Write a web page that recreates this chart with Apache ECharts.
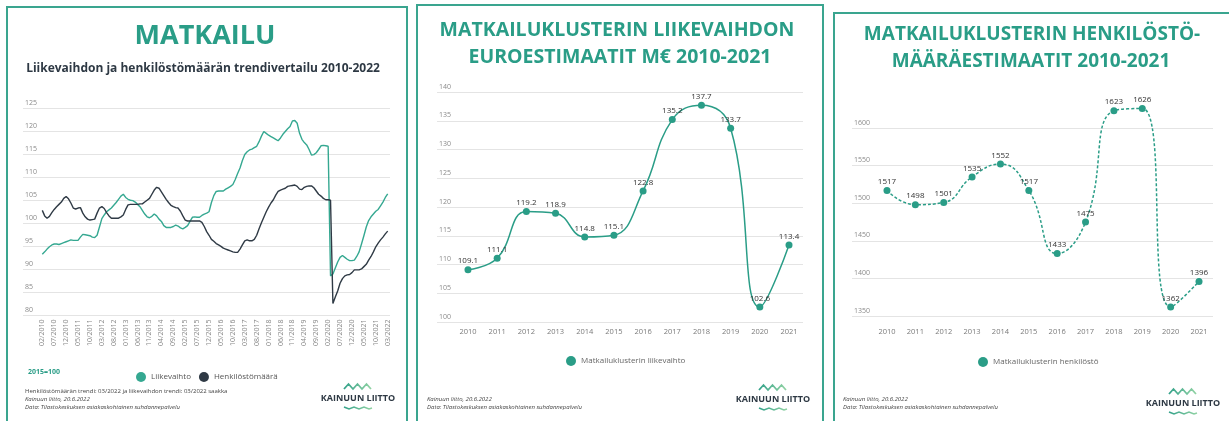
<!DOCTYPE html>
<html><head><meta charset="utf-8">
<script src="https://cdn.jsdelivr.net/npm/echarts@6/dist/echarts.min.js"></script>
<style>html,body{margin:0;padding:0;background:#fff}#c{width:1229px;height:421px}</style>
</head><body><div id="c"></div>
<script>
// ---- categories ----
const months = [];
for (let y = 2010; y <= 2022; y++) {
  for (let m = 1; m <= 12; m++) {
    if ((y === 2010 && m < 2) || (y === 2022 && m > 3)) continue;
    months.push((m < 10 ? '0' : '') + m + '/' + y);
  }
}
const years = ['2010','2011','2012','2013','2014','2015','2016','2017','2018','2019','2020','2021'];

// ---- panel 1: trend indices (2015=100), 02/2010 - 03/2022 ----
const liikevaihtoTrend = [
  93.3,93.8,94.4,94.9,95.3,95.5,95.5,95.4,95.6,95.8,
  96.0,96.2,96.4,96.3,96.3,96.3,97.0,97.6,97.5,97.4,
  97.3,97.0,96.9,97.4,99.2,101.0,101.8,102.5,102.9,103.3,
  103.9,104.5,105.2,105.9,106.3,105.6,105.2,105.0,104.9,104.6,
  104.1,103.6,102.8,102.0,101.4,101.2,101.5,102.0,101.6,100.9,
  100.4,99.5,99.1,99.1,99.1,99.3,99.6,99.4,99.0,98.8,
  99.1,99.5,100.4,101.3,101.4,101.3,101.3,101.7,102.0,102.2,
  102.5,104.5,106.0,106.9,107.0,107.0,107.0,107.4,107.7,108.0,
  108.4,109.5,110.8,112.0,113.6,114.9,115.5,115.9,116.1,116.4,
  116.7,117.7,118.9,119.9,119.5,119.1,118.8,118.5,118.2,117.9,
  118.5,119.3,119.9,120.5,121.0,122.2,122.3,121.7,119.5,118.2,
  117.5,117.0,116.0,114.8,114.9,115.3,116.0,116.8,116.9,116.8,
  116.7,88.6,89.0,90.3,91.6,92.6,93.0,92.6,92.2,91.9,
  91.9,92.0,92.8,93.8,95.5,97.3,99.2,100.6,101.4,102.0,
  102.6,103.0,103.8,104.6,105.6,106.4
];
const henkilostoTrend = [
  102.8,101.6,101.1,101.5,102.3,103.0,103.6,104.1,104.6,105.4,
  105.8,105.3,104.4,103.3,103.1,103.3,103.4,102.2,101.4,100.9,
  100.7,100.8,100.9,102.2,103.3,103.6,103.2,102.3,101.6,101.1,
  101.1,101.1,101.1,101.4,101.8,103.0,104.0,104.1,104.1,104.1,
  104.1,104.2,104.2,104.6,105.0,105.4,106.3,107.2,107.8,107.6,
  106.8,106.0,105.2,104.5,103.9,103.6,103.4,103.3,102.6,101.6,
  100.7,100.5,100.5,100.5,100.5,100.5,100.5,100.2,99.3,98.2,
  97.4,96.5,96.1,95.6,95.3,95.0,94.6,94.4,94.2,94.0,
  93.8,93.7,93.7,94.4,95.3,96.2,96.4,96.2,96.2,96.5,
  97.4,98.8,100.1,101.3,102.5,103.5,104.4,105.1,106.1,106.9,
  107.2,107.4,107.6,108.0,108.1,108.2,108.3,108.0,107.4,107.3,
  107.8,108.0,108.1,108.1,107.7,107.0,106.3,105.9,105.4,105.1,
  105.1,105.0,82.6,84.0,85.3,87.0,88.0,88.6,88.8,88.9,
  89.3,89.9,89.9,89.9,90.1,90.6,91.1,92.0,92.8,93.8,
  94.9,95.7,96.4,97.0,97.7,98.3
];

// ---- panel 2: turnover M€ ----
const liikevaihtoMeur = [109.1,111.1,119.2,118.9,114.8,115.1,122.8,135.2,137.7,133.7,102.6,113.4];
// ---- panel 3: personnel ----
const henkilosto = [1517,1498,1501,1535,1552,1517,1433,1475,1623,1626,1362,1396];

const TEAL = '#2a9d87';
const DARK = '#2e3944';
const FONT = '"Open Sans", sans-serif';

function logo(cx, ty) {
  const grad = new echarts.graphic.LinearGradient(0, 0, 1, 0, [
    { offset: 0, color: '#2a9d87' }, { offset: 1, color: '#9ad7a6' }]);
  const grad2 = new echarts.graphic.LinearGradient(0, 0, 1, 0, [
    { offset: 0, color: '#2a9d87' }, { offset: 1, color: '#9ad7a6' }]);
  return [
    { type: 'polyline', silent: true,
      shape: { points: [[cx-14,ty+5],[cx-9.5,ty],[cx-5,ty+5],[cx-0.5,ty],[cx+4,ty+5],[cx+8.5,ty],[cx+13,ty+5]] },
      style: { stroke: grad, lineWidth: 1.8, fill: null } },
    { type: 'text', silent: true, x: cx, y: ty + 14,
      style: { text: 'KAINUUN LIITTO', fill: DARK, font: 'bold 9px ' + FONT, align: 'center', verticalAlign: 'middle' } },
    { type: 'polyline', silent: true, smooth: 0.5,
      shape: { points: [[cx-14,ty+23],[cx-9,ty+25],[cx-4,ty+23],[cx+1,ty+25],[cx+6,ty+23],[cx+11,ty+25],[cx+14,ty+24]] },
      style: { stroke: grad2, lineWidth: 1.6, fill: null } }
  ];
}

function txt(x, y, text, font, fill, align) {
  return { type: 'text', silent: true, x: x, y: y,
    style: { text: text, font: font, fill: fill, align: align || 'left', verticalAlign: 'middle' } };
}

const gridLine = { show: true, lineStyle: { color: '#e4e4e4', width: 1 } };
const yLabelInside = { inside: true, margin: 2, color: '#8a8a8a', fontSize: 7, fontFamily: FONT,
  verticalAlign: 'bottom', padding: [0, 0, 2, 0], formatter: v => String(v) };

const chart = echarts.init(document.getElementById('c'));
chart.setOption({
  animation: false,
  grid: [
    { left: 23, top: 108, width: 367, height: 207.5 },     // 0 panel1 background
    { left: 42.3, top: 108, width: 345.4, height: 207.5 }, // 1 panel1 data
    { left: 437, top: 92, width: 366, height: 230 },        // 2 panel2 background
    { left: 453.4, top: 92, width: 350.2, height: 230 },    // 3 panel2 data
    { left: 852, top: 128, width: 361, height: 188 },       // 4 panel3 background
    { left: 872.8, top: 90.4, width: 340.4, height: 225.6 } // 5 panel3 data
  ],
  xAxis: [
    { gridIndex: 0, type: 'value', show: false, min: 0, max: 1 },
    { gridIndex: 1, type: 'category', data: months, boundaryGap: false,
      axisLine: { show: false }, axisTick: { show: false },
      axisLabel: { interval: 4, rotate: 90, margin: 4, color: '#8a8a8a', fontSize: 7, fontFamily: FONT } },
    { gridIndex: 2, type: 'value', show: false, min: 0, max: 1 },
    { gridIndex: 3, type: 'category', data: years, boundaryGap: true,
      axisLine: { show: false }, axisTick: { show: false },
      axisLabel: { margin: 6, color: '#7a7a7a', fontSize: 7.5, fontFamily: FONT } },
    { gridIndex: 4, type: 'value', show: false, min: 0, max: 1 },
    { gridIndex: 5, type: 'category', data: years, boundaryGap: true,
      axisLine: { show: false }, axisTick: { show: false },
      axisLabel: { margin: 12, color: '#7a7a7a', fontSize: 7.5, fontFamily: FONT } }
  ],
  yAxis: [
    { gridIndex: 0, type: 'value', min: 80, max: 125, interval: 5, splitLine: gridLine,
      axisLine: { show: false }, axisTick: { show: false }, axisLabel: yLabelInside },
    { gridIndex: 1, type: 'value', min: 80, max: 125, show: false, splitLine: { show: false } },
    { gridIndex: 2, type: 'value', min: 100, max: 140, interval: 5, splitLine: gridLine,
      axisLine: { show: false }, axisTick: { show: false }, axisLabel: yLabelInside },
    { gridIndex: 3, type: 'value', min: 100, max: 140, show: false, splitLine: { show: false } },
    { gridIndex: 4, type: 'value', min: 1350, max: 1600, interval: 50, splitLine: gridLine,
      axisLine: { show: false }, axisTick: { show: false }, axisLabel: yLabelInside },
    { gridIndex: 5, type: 'value', min: 1350, max: 1650, show: false, splitLine: { show: false } }
  ],
  legend: [
    { data: ['Liikevaihto', 'Henkilöstömäärä'], left: 131, top: 367, icon: 'circle',
      itemWidth: 10, itemHeight: 10, itemGap: 8,
      textStyle: { fontSize: 8, color: '#555', fontFamily: FONT } },
    { data: ['Matkailuklusterin liikevaihto'], left: 561, top: 351, icon: 'circle',
      itemWidth: 10, itemHeight: 10, textStyle: { fontSize: 8, color: '#666', fontFamily: FONT } },
    { data: ['Matkailuklusterin henkilöstö'], left: 973, top: 352, icon: 'circle',
      itemWidth: 10, itemHeight: 10, textStyle: { fontSize: 8, color: '#666', fontFamily: FONT } }
  ],
  series: [
    { name: 'Liikevaihto', type: 'line', xAxisIndex: 1, yAxisIndex: 1, data: liikevaihtoTrend,
      showSymbol: false, symbol: 'circle', color: '#35a891', lineStyle: { width: 1.4, color: '#35a891' } },
    { name: 'Henkilöstömäärä', type: 'line', xAxisIndex: 1, yAxisIndex: 1, data: henkilostoTrend,
      showSymbol: false, symbol: 'circle', color: '#2f3a45', lineStyle: { width: 1.4, color: '#2f3a45' } },
    { name: 'Matkailuklusterin liikevaihto', type: 'line', xAxisIndex: 3, yAxisIndex: 3, data: liikevaihtoMeur,
      smooth: 0.45, symbol: 'circle', symbolSize: 7, color: TEAL, lineStyle: { width: 1.5, color: TEAL },
      label: { show: true, position: 'top', distance: 1, color: '#333', fontSize: 8, fontFamily: FONT,
        formatter: p => p.value.toFixed(1) } },
    { name: 'Matkailuklusterin henkilöstö', type: 'line', xAxisIndex: 5, yAxisIndex: 5, data: henkilosto,
      smooth: 0.5, symbol: 'circle', symbolSize: 7, color: TEAL,
      lineStyle: { width: 1.5, color: TEAL, type: [3, 2] },
      label: { show: true, position: 'top', distance: 1, color: '#333', fontSize: 8, fontFamily: FONT } }
  ],
  graphic: [
    { type: 'rect', silent: true, shape: { x: 7, y: 7, width: 400, height: 430 },
      style: { fill: null, stroke: '#3aa58f', lineWidth: 2 } },
    { type: 'rect', silent: true, shape: { x: 417, y: 5, width: 406, height: 430 },
      style: { fill: null, stroke: '#3aa58f', lineWidth: 2 } },
    { type: 'rect', silent: true, shape: { x: 834, y: 13, width: 400, height: 430 },
      style: { fill: null, stroke: '#3aa58f', lineWidth: 2 } },
    txt(205, 36, 'MATKAILU', 'bold 27px ' + FONT, TEAL, 'center'),
    txt(203, 69, 'Liikevaihdon ja henkilöstömäärän trendivertailu 2010-2022', 'bold 12px ' + FONT, DARK, 'center'),
    txt(617, 30, 'MATKAILUKLUSTERIN LIIKEVAIHDON', 'bold 19.5px ' + FONT, TEAL, 'center'),
    txt(620, 57, 'EUROESTIMAATIT M€ 2010-2021', 'bold 19.5px ' + FONT, TEAL, 'center'),
    txt(1032, 35, 'MATKAILUKLUSTERIN HENKILÖSTÖ-', 'bold 19px ' + FONT, TEAL, 'center'),
    txt(1031, 62, 'MÄÄRÄESTIMAATIT 2010-2021', 'bold 19px ' + FONT, TEAL, 'center'),
    txt(28, 372, '2015=100', 'bold 7px ' + FONT, TEAL),
    txt(25, 391, 'Henkilöstömäärän trendi: 03/2022 ja liikevaihdon trendi: 03/2022 saakka', '6px ' + FONT, '#444'),
    txt(25, 399, 'Kainuun liitto, 20.6.2022', 'italic 6px ' + FONT, '#444'),
    txt(25, 407, 'Data: Tilastokeskuksen asiakaskohtainen suhdannepalvelu', 'italic 6px ' + FONT, '#444'),
    txt(427, 399, 'Kainuun liitto, 20.6.2022', 'italic 6px ' + FONT, '#444'),
    txt(427, 407, 'Data: Tilastokeskuksen asiakaskohtainen suhdannepalvelu', 'italic 6px ' + FONT, '#444'),
    txt(843, 399, 'Kainuun liitto, 20.6.2022', 'italic 6px ' + FONT, '#444'),
    txt(843, 407, 'Data: Tilastokeskuksen asiakaskohtainen suhdannepalvelu', 'italic 6px ' + FONT, '#444')
  ].concat(logo(358, 384), logo(773, 385), logo(1183, 389))
});
</script>
</body></html>
